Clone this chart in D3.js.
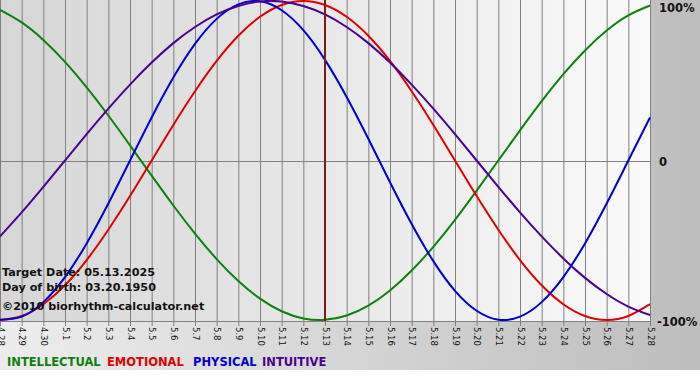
<!DOCTYPE html>
<html><head><meta charset="utf-8">
<script src="https://cdn.jsdelivr.net/npm/d3@7"></script>
<style>html,body{margin:0;padding:0;background:#fff;}svg{display:block;}</style>
</head><body>
<svg id="chart" width="700" height="380"></svg>
<script>
const days = ["4.28","4.29","4.30","5.1","5.2","5.3","5.4","5.5","5.6","5.7","5.8","5.9","5.10","5.11","5.12","5.13","5.14","5.15","5.16","5.17","5.18","5.19","5.20","5.21","5.22","5.23","5.24","5.25","5.26","5.27","5.28"];
const intellectual = [94.5,86.6,75.6,61.8,45.8,28.2,9.5,-9.5,-28.2,-45.8,-61.8,-75.6,-86.6,-94.5,-99.0,-99.9,-97.2,-91.0,-81.5,-69.0,-54.1,-37.2,-18.9,0,18.9,37.2,54.1,69.0,81.5,91.0,97.2];
const emotional = [-100,-97.5,-90.1,-78.2,-62.4,-43.4,-22.3,0,22.3,43.4,62.4,78.2,90.1,97.5,100,97.5,90.1,78.2,62.4,43.4,22.3,0,-22.3,-43.4,-62.4,-78.2,-90.1,-97.5,-100,-97.5,-90.1];
const physical = [-99.8,-97.9,-88.8,-73.1,-52.0,-27.0,0,27.0,52.0,73.1,88.8,97.9,99.8,94.2,81.7,63.1,39.8,13.6,-13.6,-39.8,-63.1,-81.7,-94.2,-99.8,-97.9,-88.8,-73.1,-52.0,-27.0,0,27.0];
const intuitive = [-47.6,-32.5,-16.5,0,16.5,32.5,47.6,61.4,73.6,83.7,91.6,96.9,99.7,99.7,96.9,91.6,83.7,73.6,61.4,47.6,32.5,16.5,0,-16.5,-32.5,-47.6,-61.4,-73.6,-83.7,-91.6,-96.9];
const seriesNames = ["INTELLECTUAL","EMOTIONAL","PHYSICAL","INTUITIVE"];
const seriesColors = ["#0d800d","#e00000","#0000d0","#4b0090"];
const yTicks = [100, 0, -100];
const yTickLabels = ["100%", "0", "-100%"];
const targetDay = "5.13";
const infoLines = ["Target Date: 05.13.2025", "Day of birth: 03.20.1950", "\u00a92010 biorhythm-calculator.net"];

const svg = d3.select("#chart");
const W = 700, plotW = 650, plotTop = 0, plotBottom = 321, bgH = 370;
const defs = svg.append("defs");
const g1 = defs.append("linearGradient").attr("id","outerBg").attr("x1","0").attr("x2","1").attr("y1","0").attr("y2","0");
g1.append("stop").attr("offset","0").attr("stop-color","#ededed");
g1.append("stop").attr("offset","1").attr("stop-color","#bdbdbd");
const g2 = defs.append("linearGradient").attr("id","plotBg").attr("x1","0").attr("x2","1").attr("y1","0").attr("y2","0");
g2.append("stop").attr("offset","0").attr("stop-color","#d6d6d6");
g2.append("stop").attr("offset","1").attr("stop-color","#fafafa");

svg.append("rect").attr("x",0).attr("y",0).attr("width",W).attr("height",bgH).attr("fill","url(#outerBg)");
svg.append("rect").attr("x",0).attr("y",plotTop).attr("width",plotW).attr("height",plotBottom-plotTop).attr("fill","url(#plotBg)");

const x = d3.scaleLinear().domain([0, days.length-1]).range([0, plotW]);
const y = d3.scaleLinear().domain([-100, 100]).range([320, 1]);

const xAxis = d3.axisBottom(x).tickValues(d3.range(days.length)).tickFormat(i => days[i]).tickSize(5).tickSizeOuter(0);
const ax = svg.append("g").attr("transform",`translate(0,${plotBottom})`).call(xAxis);
ax.select(".domain").attr("stroke","#808080");
ax.selectAll(".tick line").attr("stroke","#808080");
ax.selectAll(".tick text")
  .attr("font-family","DejaVu Sans, Verdana, sans-serif").attr("font-size","8.5px").attr("fill","#111")
  .attr("text-anchor","start").attr("transform","rotate(90)").attr("x",6).attr("y",0).attr("dy","0.35em");

svg.append("g").selectAll("line").data(d3.range(days.length)).join("line")
  .attr("x1",i=>x(i)+0.5).attr("x2",i=>x(i)+0.5).attr("y1",plotTop).attr("y2",plotBottom)
  .attr("stroke","#808080").attr("stroke-width",1);
svg.append("line").attr("x1",0).attr("x2",plotW).attr("y1",Math.round(y(0))+0.5).attr("y2",Math.round(y(0))+0.5)
  .attr("stroke","#808080");

svg.append("g").selectAll("text").data(yTicks).join("text")
  .attr("x", (d,i)=> i===2 ? 657 : 659)
  .attr("y", d => Math.max(y(d)+2, 8))
  .attr("dominant-baseline","middle")
  .attr("font-family","DejaVu Sans, Verdana, sans-serif").attr("font-weight","bold").attr("font-size","11.5px").attr("fill","#111")
  .text((d,i)=>yTickLabels[i]);

const all = [intellectual, emotional, physical, intuitive];
const line = d3.line().x((d,i)=>x(i)).y(d=>y(d)).curve(d3.curveNatural);
svg.append("g").selectAll("path").data(all).join("path")
  .attr("d", line).attr("fill","none").attr("stroke",(d,i)=>seriesColors[i]).attr("stroke-width",2);

const ti = days.indexOf(targetDay);
svg.append("line").attr("x1",x(ti)).attr("x2",x(ti)).attr("y1",plotTop).attr("y2",plotBottom)
  .attr("stroke","#7f1a1a").attr("stroke-width",2);

svg.append("g").selectAll("text").data(infoLines).join("text")
  .attr("x",2).attr("y",(d,i)=>[276,291,310][i])
  .attr("font-family","DejaVu Sans, Verdana, sans-serif").attr("font-weight","bold").attr("font-size","11.2px").attr("fill","#111")
  .text(d=>d);

const legX = [7,107,193,262];
svg.append("g").selectAll("text").data(seriesNames).join("text")
  .attr("x",(d,i)=>legX[i]).attr("y",366)
  .attr("font-family","DejaVu Sans, Verdana, sans-serif").attr("font-weight","bold").attr("font-size","11.5px")
  .attr("fill",(d,i)=>seriesColors[i]).text(d=>d);
</script>
</body></html>
